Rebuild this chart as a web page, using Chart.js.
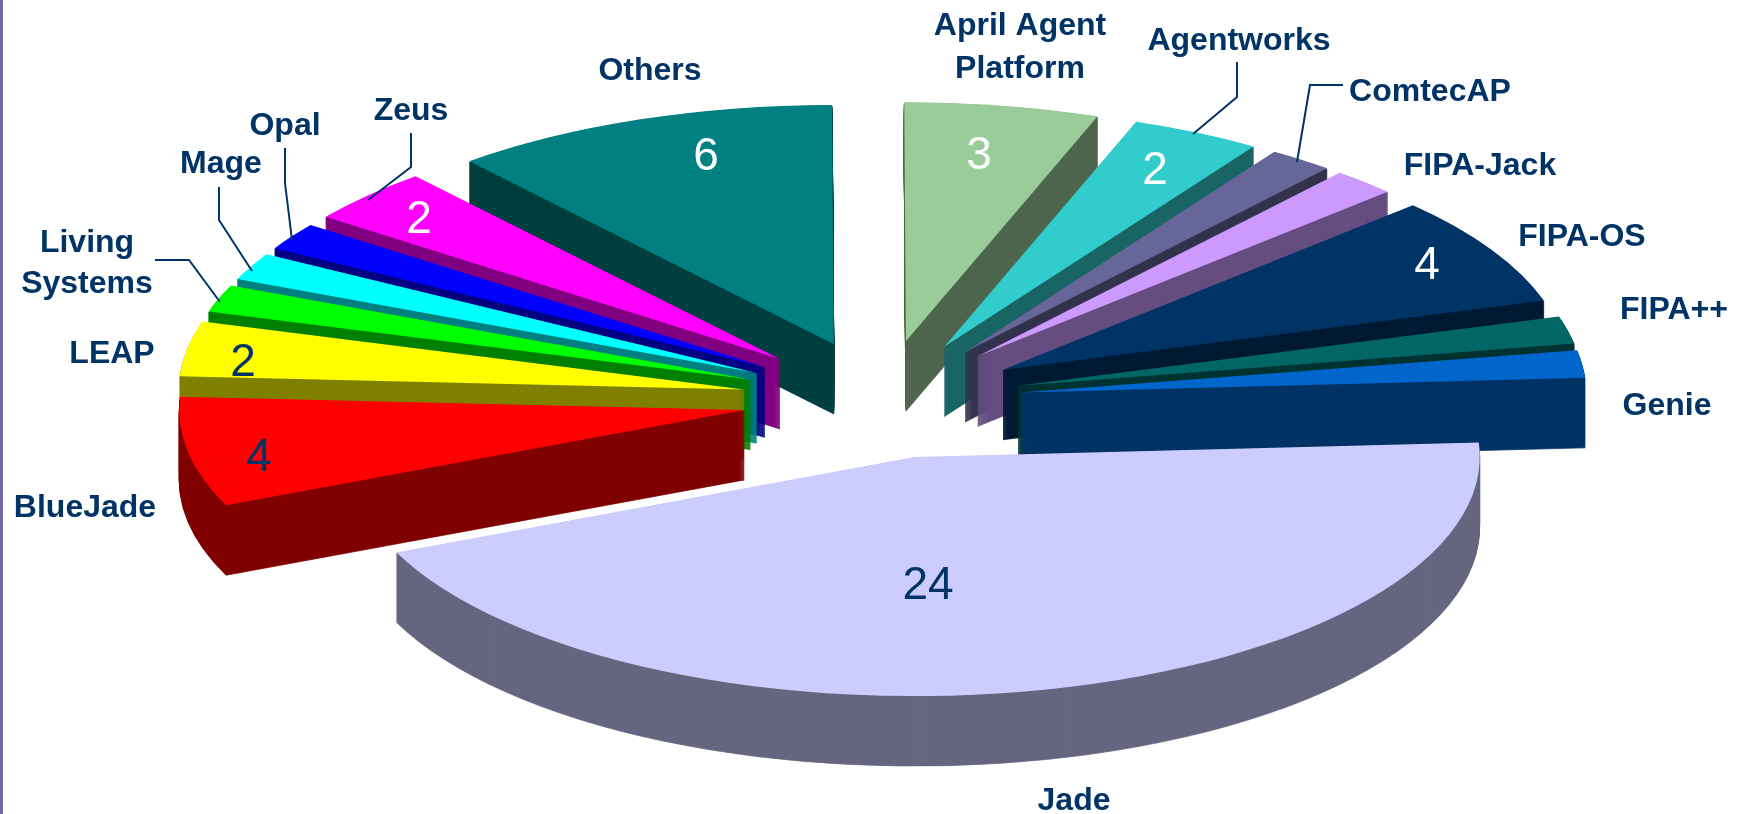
<!DOCTYPE html>
<html>
<head>
<meta charset="utf-8">
<title>Agent platforms</title>
<style>
  html, body { margin: 0; padding: 0; background: #fff; }
  canvas { display: block; }
</style>
<script src="https://cdn.jsdelivr.net/npm/chart.js@4/dist/chart.umd.min.js"></script>
</head>
<body>
<canvas id="myChart" width="1747" height="814"></canvas>
<script>
// data, clockwise from the right edge
const categories = ["Jade", "BlueJade", "LEAP", "Living Systems", "Mage", "Opal", "Zeus", "Others",
  "April Agent Platform", "Agentworks", "ComtecAP", "FIPA-Jack", "FIPA-OS", "FIPA++", "Genie"];
const values = [24, 4, 2, 1, 1, 1, 2, 6, 3, 2, 1, 1, 4, 1, 1];
const topColors = ["#CCCCFF", "#FF0000", "#FFFF00", "#00FF00", "#00FFFF", "#0000FF", "#FF00FF", "#008080",
  "#99CC99", "#33CCCC", "#666699", "#CC99FF", "#003366", "#006666", "#0066CC"];
const sideColors = ["#666680", "#800000", "#808000", "#008000", "#008080", "#000080", "#800080", "#004040",
  "#4D664D", "#1A6666", "#33334D", "#664D80", "#001A33", "#003333", "#003366"];

// look of the tilted pie
const squash = 0.423;
const depth = 70;
const explode = 140;
const navy = "#003366";

// where the text goes
const namePlaces = {
  "Jade": [[1074, 801]],
  "BlueJade": [[85, 508]],
  "LEAP": [[112, 354]],
  "Living Systems": [[87, 243, "Living"], [87, 284, "Systems"]],
  "Mage": [[221, 164]],
  "Opal": [[285, 126]],
  "Zeus": [[411, 111]],
  "Others": [[650, 71]],
  "April Agent Platform": [[1020, 26, "April Agent"], [1020, 69, "Platform"]],
  "Agentworks": [[1239, 41]],
  "ComtecAP": [[1430, 92]],
  "FIPA-Jack": [[1480, 166]],
  "FIPA-OS": [[1582, 237]],
  "FIPA++": [[1674, 310]],
  "Genie": [[1667, 406]]
};
const valuePlaces = {
  "Jade": [928, 586, navy],
  "BlueJade": [259, 458, navy],
  "LEAP": [243, 363, navy],
  "Zeus": [419, 220, "#fff"],
  "Others": [706, 157, "#fff"],
  "April Agent Platform": [979, 156, "#fff"],
  "Agentworks": [1155, 171, "#fff"],
  "FIPA-OS": [1427, 266, "#fff"]
};
const leaderLines = [
  [[155, 260], [189, 260], [220, 302]],
  [[219, 187], [219, 220], [252, 271]],
  [[285, 148], [285, 183], [292, 240]],
  [[411, 133], [411, 167], [368, 200]],
  [[1237, 62], [1237, 97], [1193, 134]],
  [[1343, 85], [1310, 85], [1297, 162]]
];

// draws one slice with the canvas squashed, moved out along its middle angle
function drawSlice(ctx, arc, color, drop, edge) {
  const mid = (arc.startAngle + arc.endAngle) / 2;
  const base = arc.options;
  ctx.save();
  ctx.translate(arc.x, arc.y + drop);
  ctx.scale(1, squash);
  ctx.translate(Math.cos(mid) * explode - arc.x, Math.sin(mid) * explode - arc.y);
  arc.options = Object.create(base, {
    backgroundColor: { value: color },
    borderColor: { value: color },
    borderWidth: { value: edge }
  });
  arc.draw(ctx);
  arc.options = base;
  ctx.restore();
}

const tiltedPie = {
  id: "tiltedPie",
  beforeDatasetsDraw: function(chart) {
    const ctx = chart.ctx;
    const arcs = chart.getDatasetMeta(0).data.map(function(arc, i) {
      return { arc: arc, i: i, y: Math.sin((arc.startAngle + arc.endAngle) / 2) };
    });
    // back slices first
    arcs.sort(function(a, b) { return a.y - b.y; });
    arcs.forEach(function(item) {
      for (var d = depth; d > 0; d--) {
        drawSlice(ctx, item.arc, sideColors[item.i], d, 1);
      }
      drawSlice(ctx, item.arc, topColors[item.i], 0, 0);
    });
    return false;
  },
  afterDraw: function(chart) {
    const ctx = chart.ctx;
    ctx.save();

    // purple rule on the left
    ctx.fillStyle = "#6E6AA8";
    ctx.fillRect(0, 0, 3, chart.height);

    ctx.strokeStyle = navy;
    ctx.lineWidth = 2;
    leaderLines.forEach(function(line) {
      ctx.beginPath();
      line.forEach(function(p, i) {
        if (i === 0) ctx.moveTo(p[0], p[1]); else ctx.lineTo(p[0], p[1]);
      });
      ctx.stroke();
    });

    ctx.textAlign = "center";
    ctx.textBaseline = "middle";
    ctx.font = "bold 32px 'Liberation Sans'";
    ctx.fillStyle = navy;
    categories.forEach(function(name) {
      namePlaces[name].forEach(function(p) {
        ctx.fillText(p[2] || name, p[0], p[1]);
      });
    });

    ctx.font = "46px 'Liberation Sans'";
    categories.forEach(function(name, i) {
      const p = valuePlaces[name];
      if (!p) return;
      ctx.fillStyle = p[2];
      ctx.fillText(String(values[i]), p[0], p[1]);
    });
    ctx.restore();
  }
};

new Chart("myChart", {
  type: "pie",
  plugins: [tiltedPie],
  data: {
    labels: categories,
    datasets: [{
      data: values,
      backgroundColor: topColors,
      borderWidth: 0,
      radius: 565
    }]
  },
  options: {
    responsive: false,
    animation: false,
    events: [],
    rotation: 86.5,
    layout: { padding: { left: 17, bottom: 15 } },
    plugins: {
      legend: { display: false },
      title: { display: false },
      tooltip: { enabled: false }
    }
  }
});
</script>
</body>
</html>
